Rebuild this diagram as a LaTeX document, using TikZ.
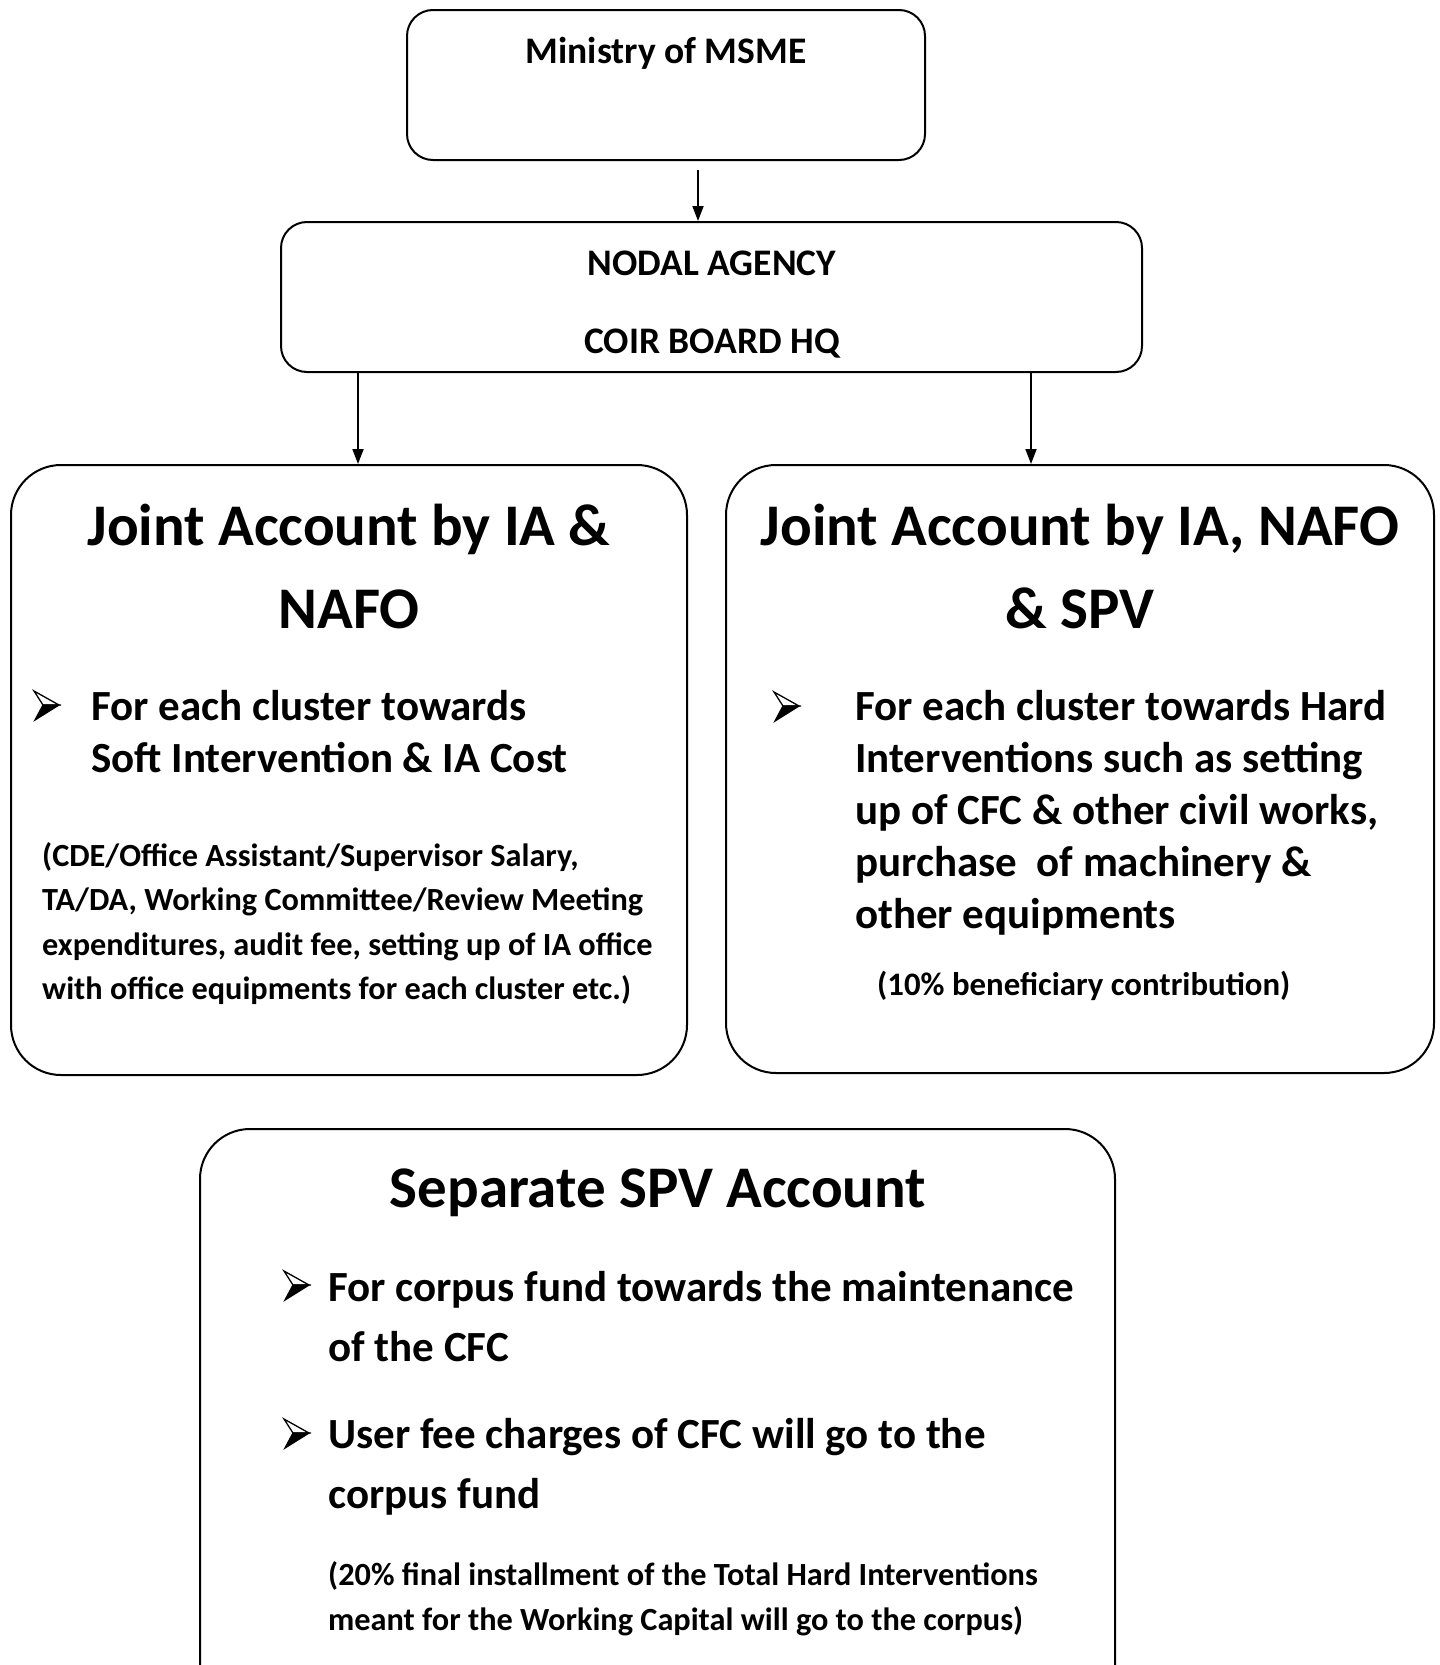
\documentclass[tikz,border=0pt]{standalone}
\usepackage{fontspec}
\setmainfont{Carlito}
\usetikzlibrary{arrows.meta}
\tikzset{
  box/.style={draw, line width=2pt, inner sep=0pt},
  arr/.style={line width=1.8pt, -{Triangle[length=15pt,width=11pt]}},
  txt/.style={inner sep=0pt, anchor=base, font=\bfseries},
  txtw/.style={inner sep=0pt, anchor=base west, font=\bfseries},
  fmin/.style={font=\bfseries\fontsize{37.5}{45}\selectfont},
  fnod/.style={font=\bfseries\fontsize{37.5}{45}\selectfont},
  ftitle/.style={font=\bfseries\fontsize{59}{70}\selectfont},
  fbul/.style={font=\bfseries\fontsize{43}{52}\selectfont},
  fpar/.style={font=\bfseries\fontsize{32.3}{40}\selectfont},
  wbullet/.pic={
    \draw[line width=1.3pt, line join=miter, fill=white] (0,0) -- (25,14) -- (9,14) -- cycle;
    \draw[line width=1.3pt, line join=miter, fill=black] (9,14) -- (25,14) -- (1,29) -- cycle;
  },
}
\begin{document}
\begin{tikzpicture}[x=1pt,y=-1pt]
\useasboundingbox (0,0) rectangle (1440,1665);
\clip (0,0) rectangle (1440,1665);
\fill[white] (0,0) rectangle (1440,1665);
% boxes
\node[box, rounded corners=26pt, minimum width=518pt, minimum height=150pt] (ministry) at (666,85) {};
\node[box, rounded corners=26pt, minimum width=861pt, minimum height=150pt] (nodal) at (711.5,297) {};
\node[box, rounded corners=50pt, minimum width=676pt, minimum height=610pt] (left) at (349,770) {};
\node[box, rounded corners=50pt, minimum width=708pt, minimum height=608pt] (right) at (1080,769) {};
\node[box, rounded corners=50pt, minimum width=915pt, minimum height=600pt] (bottom) at (657.5,1429) {};
% arrows
\coordinate (a1) at (698,170);
\coordinate (la) at (358,0);
\coordinate (ra) at (1031,0);
\draw[arr] (a1) -- (a1 |- nodal.north);
\draw[arr] (nodal.south -| la) -- (left.north -| la);
\draw[arr] (nodal.south -| ra) -- (right.north -| ra);
% ministry
\node[txt, fmin] (tmin) at (666,63) {Ministry of MSME};
% nodal
\node[txt, fnod] (tnod1) at (712,275) {NODAL AGENCY};
\node[txt, fnod] (tnod2) at (712,353) {COIR BOARD HQ};
% left box
\node[txt, ftitle] (lt1) at (349,545) {Joint Account by IA \&};
\node[txt, ftitle] (lt2) at (349,628) {NAFO};
\pic at (34,691) {wbullet};
\node[txtw, fbul] (ll1) at (91,720) {For each cluster towards};
\node[txtw, fbul] (ll2) at (91,772) {Soft Intervention \& IA Cost};
\node[txtw, fpar] (lp1) at (42,866) {(CDE/Office Assistant/Supervisor Salary,};
\node[txtw, fpar] (lp2) at (42,910) {TA/DA, Working Committee/Review Meeting};
\node[txtw, fpar] (lp3) at (42,955) {expenditures, audit fee, setting up of IA office};
\node[txtw, fpar] (lp4) at (42,999) {with office equipments for each cluster etc.)};
% right box
\node[txt, ftitle] (rt1) at (1080,545) {Joint Account by IA, NAFO};
\node[txt, ftitle] (rt2) at (1080,628) {\& SPV};
\pic at (774,692) {wbullet};
\node[txtw, fbul] (rl1) at (855,720) {For each cluster towards Hard};
\node[txtw, fbul] (rl2) at (855,772) {Interventions such as setting};
\node[txtw, fbul] (rl3) at (855,824) {up of CFC \& other civil works,};
\node[txtw, fbul] (rl4) at (855,876) {purchase\ \ of machinery \&};
\node[txtw, fbul] (rl5) at (855,928) {other equipments};
\node[txtw, font=\bfseries\fontsize{32.8}{40}\selectfont] (rp1) at (877,995) {(10\% beneficiary contribution)};
% bottom box
\node[txt, ftitle] (bt1) at (658,1207) {Separate SPV Account};
\pic at (284,1271) {wbullet};
\node[txtw, fbul] (bl1) at (328,1301) {For corpus fund towards the maintenance};
\node[txtw, fbul] (bl2) at (328,1361) {of the CFC};
\pic at (284,1419) {wbullet};
\node[txtw, fbul] (bl3) at (328,1448) {User fee charges of CFC will go to the};
\node[txtw, fbul] (bl4) at (328,1508) {corpus fund};
\node[txtw, fpar] (bp1) at (328,1585) {(20\% final installment of the Total Hard Interventions};
\node[txtw, fpar] (bp2) at (328,1630) {meant for the Working Capital will go to the corpus)};
\end{tikzpicture}
\end{document}
